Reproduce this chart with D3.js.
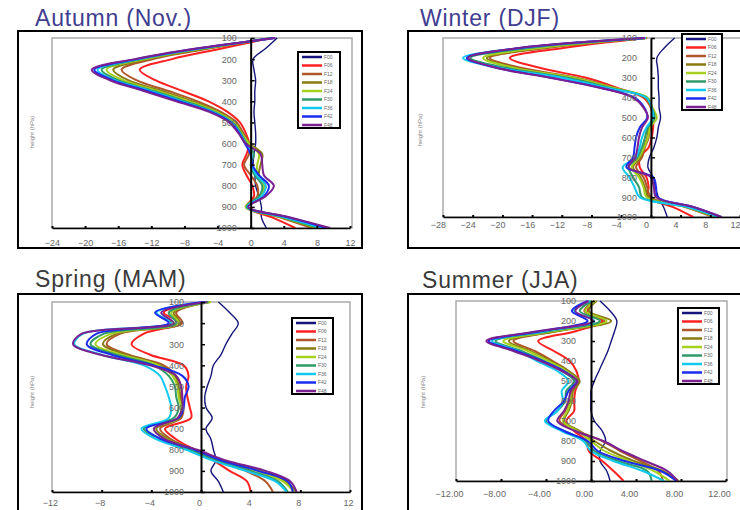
<!DOCTYPE html>
<html>
<head>
<meta charset="utf-8">
<script src="https://d3js.org/d3.v7.min.js"></script>
<style>
  body { margin: 0; background: #fff; }
  svg { display: block; font-family: Arial, "Liberation Sans", sans-serif; }
</style>
</head>
<body>
<svg id="chart" width="740" height="510"></svg>
<script>
// pressure levels (hPa) the profiles were read at
var levels = [100, 150, 200, 250, 300, 350, 400, 450, 500, 550, 600, 650, 700, 750, 800, 850, 900, 950, 1000];
var yTicks = [100, 200, 300, 400, 500, 600, 700, 800, 900, 1000];
var seriesNames = ["F00", "F06", "F12", "F18", "F24", "F30", "F36", "F42", "F48"];
var seriesColors = ["#14147a", "#ff2020", "#b0562a", "#8a7a12", "#a6d01e", "#2f9a68", "#10c8f0", "#1a2cf0", "#7a2090"];

var autumnTicks = [-24, -20, -16, -12, -8, -4, 0, 4, 8, 12];
var winterTicks = [-28, -24, -20, -16, -12, -8, -4, 0, 4, 8, 12];
var springTicks = [-12, -8, -4, 0, 4, 8, 12];
var summerTicks = [-12, -8, -4, 0, 4, 8, 12];

// one row per series, same order as seriesNames
var autumnVals = [
  [3.2, 1.8, 0.3, 0.4, 0.6, 0.5, 0.5, 0.4, 0.5, 0.6, 0.6, 0.4, 0.3, 0.5, 0.6, 1.0, 1.3, 1.3, 1.9],
  [2.4, -3.5, -9.5, -13.4, -11.5, -8.3, -5.1, -2.8, -1.3, -0.6, -0.2, -0.5, -1.0, -0.5, 0.2, 0.4, -0.5, 2.6, 5.4],
  [2.5, -5.0, -11.8, -15.6, -13.8, -10.0, -6.4, -3.6, -1.7, -0.9, -0.3, -0.2, -0.8, 0.0, 0.8, 0.8, -0.5, 3.6, 7.4],
  [2.6, -5.4, -12.4, -16.6, -14.8, -10.8, -7.0, -3.9, -1.9, -1.0, -0.1, 1.4, 1.2, 1.0, 1.8, 1.2, -0.6, 3.8, 7.9],
  [2.6, -5.7, -12.8, -17.4, -15.4, -11.3, -7.4, -4.1, -2.0, -1.1, -0.2, 1.0, 0.8, 0.8, 1.6, 1.1, -0.6, 3.9, 8.1],
  [2.7, -6.0, -13.2, -18.0, -16.0, -11.8, -7.9, -4.4, -2.2, -1.2, -0.5, 0.4, 0.0, 0.5, 1.4, 1.0, -0.5, 4.0, 8.3],
  [2.8, -6.2, -13.5, -18.5, -16.4, -12.2, -8.3, -4.6, -2.3, -1.3, -0.6, 0.1, 0.1, 0.7, 1.8, 1.3, -0.4, 4.2, 8.7],
  [2.9, -6.4, -13.8, -18.9, -16.7, -12.6, -8.6, -4.8, -2.4, -1.4, -0.7, 0.0, 0.2, 1.0, 2.2, 1.6, -0.3, 4.6, 9.2],
  [3.0, -6.6, -14.0, -19.2, -17.0, -13.0, -9.0, -5.0, -2.6, -1.5, -0.6, 1.2, 1.4, 1.6, 2.8, 1.8, -0.3, 4.8, 9.6]
];
var winterVals = [
  [3.2, 1.8, 0.8, 0.9, 1.0, 1.0, 1.1, 1.1, 1.3, 1.0, 0.8, 0.4, -0.2, -0.4, 0.3, 0.6, 1.0, 1.7, 2.2],
  [-0.5, -11.8, -19.0, -15.0, -8.7, -4.6, -1.0, 0.0, 0.3, 0.3, 0.1, -0.3, -1.5, -1.5, -0.6, -0.3, -0.4, 3.0, 5.7],
  [-0.6, -14.0, -21.7, -17.5, -10.0, -5.0, -0.8, 0.0, 0.2, -0.2, -0.3, -0.8, -1.2, -2.0, -1.0, -0.5, 0.0, 4.6, 8.4],
  [-0.6, -14.6, -22.1, -18.2, -10.3, -5.1, -0.7, 0.1, 0.4, -0.3, -0.5, -1.0, -1.4, -2.4, -1.4, -0.8, -0.3, 4.8, 8.6],
  [-0.6, -15.0, -22.6, -18.5, -10.4, -5.1, -0.4, 0.2, 0.8, -0.1, -0.4, -0.9, -1.6, -2.6, -1.6, -1.0, -0.6, 4.8, 8.7],
  [-0.7, -16.5, -24.3, -19.5, -11.2, -5.6, -0.6, 0.1, 0.5, -0.4, -0.8, -1.2, -1.8, -3.0, -2.4, -1.6, -1.2, 4.9, 8.9],
  [-0.7, -17.4, -25.3, -20.4, -12.0, -6.0, -0.6, 0.1, 0.3, -0.6, -1.2, -1.5, -2.0, -3.8, -2.9, -2.2, -1.5, 5.0, 9.1],
  [-0.8, -17.6, -24.8, -20.8, -13.4, -6.8, -2.2, -0.9, -0.5, -1.5, -2.0, -2.2, -2.4, -3.3, 0.3, 0.7, 0.9, 5.7, 9.5],
  [-0.8, -17.8, -24.6, -20.8, -13.6, -6.9, -2.4, -1.0, -0.4, -1.2, -1.6, -1.8, -2.1, -3.0, 0.0, 0.4, 0.7, 5.7, 9.5]
];
var springVals = [
  [1.4, 2.3, 3.0, 2.5, 2.0, 1.6, 1.0, 0.8, 0.5, 0.3, 0.4, 0.9, 0.4, 0.8, 1.0, 1.2, 0.8, 1.4, 1.8],
  [0.3, -3.0, -1.6, -4.6, -5.6, -4.1, -1.4, -1.0, -1.2, -1.1, -0.9, -0.8, -2.9, -2.0, -0.5, 1.0, 2.3, 3.7, 4.0],
  [0.5, -2.0, -1.5, -6.5, -7.6, -5.8, -3.0, -2.0, -1.6, -1.6, -1.4, -1.6, -3.3, -2.4, -0.6, 1.4, 3.6, 5.2, 5.8],
  [0.8, -2.2, -1.7, -6.8, -7.9, -6.0, -3.2, -2.1, -1.8, -1.7, -1.5, -1.7, -3.6, -2.6, -0.5, 1.8, 4.8, 6.8, 7.7],
  [0.8, -2.4, -1.8, -7.2, -8.5, -6.4, -3.4, -2.3, -1.9, -1.8, -1.6, -1.8, -3.8, -2.8, -0.6, 1.6, 4.5, 6.6, 7.5],
  [0.6, -2.6, -2.0, -7.8, -8.9, -6.8, -3.8, -2.6, -2.1, -2.0, -1.8, -2.2, -4.6, -3.2, -0.9, 1.2, 4.0, 6.2, 7.0],
  [0.4, -3.6, -2.4, -9.5, -10.2, -8.0, -4.6, -3.3, -2.9, -2.6, -2.4, -2.6, -4.8, -3.6, -1.2, 0.9, 3.6, 6.0, 6.9],
  [0.2, -3.7, -2.6, -8.4, -9.2, -7.2, -3.8, -1.5, -1.0, -1.3, -1.4, -1.8, -4.4, -3.2, -0.5, 1.6, 4.6, 7.0, 7.4],
  [0.5, -3.2, -2.2, -9.6, -10.3, -8.1, -4.1, -2.0, -1.6, -1.5, -1.5, -1.9, -3.8, -2.9, -0.3, 2.0, 5.2, 7.2, 7.7]
];
var summerVals = [
  [0.8, 1.7, 2.3, 2.1, 1.8, 1.5, 1.1, 0.7, 0.3, 0.0, 0.0, 0.0, 0.3, 1.0, 1.3, 0.8, 0.8, 1.4, 1.7],
  [0.3, -0.3, 1.0, -1.3, -4.7, -3.3, -1.9, -1.3, -1.1, -1.4, -1.5, -1.5, -2.2, -1.5, -0.4, -0.2, 1.0, 2.0, 2.9],
  [0.3, -0.6, 1.2, -3.0, -6.9, -5.0, -3.4, -2.0, -1.1, -1.7, -1.9, -2.3, -2.8, -1.2, 1.0, 2.6, 4.4, 6.0, 6.4],
  [0.5, -0.2, 1.8, -2.8, -7.3, -5.4, -3.6, -2.0, -1.0, -1.6, -1.7, -2.0, -2.4, -1.0, 0.3, 1.8, 3.8, 6.4, 7.8],
  [0.4, -0.5, 1.4, -3.2, -7.8, -5.6, -3.8, -2.2, -1.2, -1.8, -1.8, -2.1, -2.5, -1.2, 0.0, 1.2, 3.4, 5.6, 7.0],
  [0.1, -1.0, 0.8, -3.6, -8.5, -6.2, -4.2, -2.6, -1.5, -2.2, -2.3, -3.0, -4.0, -2.4, -0.5, 0.3, 2.4, 5.0, 5.4],
  [-0.1, -1.5, 0.3, -4.0, -8.8, -6.5, -4.8, -3.0, -2.0, -2.6, -2.5, -3.0, -4.1, -2.6, -0.7, 0.0, 2.0, 4.6, 6.5],
  [-0.3, -1.7, -0.3, -4.4, -9.1, -6.6, -4.3, -2.4, -1.3, -2.0, -2.4, -3.3, -3.8, -2.4, -0.3, 0.6, 3.0, 6.2, 7.6],
  [-0.2, -1.4, 0.2, -4.6, -9.3, -6.9, -4.5, -2.6, -1.2, -1.8, -2.0, -2.4, -3.0, -1.4, 1.1, 2.8, 4.8, 6.8, 7.7]
];

// layout of the four panels
var panels = [
  { title: "Autumn (Nov.)", titleColor: "#3f3d8f", tx: 35, ty: 26,
    frame: [18, 31, 362, 248], plot: [52, 38, 352, 228],
    xDomain: [-24, 12], xRange: [52, 350], yRange: [38, 228],
    ticks: autumnTicks, fmt: d3.format("d"), labelDx: 0, labelPad: 12, yPad: 14,
    legend: [298, 52, 42, 76], ylab: [32, 132], vals: autumnVals },
  { title: "Winter (DJF)", titleColor: "#3f3d8f", tx: 420, ty: 26,
    frame: [408, 31, 745, 248], plot: [443, 38, 745, 217],
    xDomain: [-28, 12], xRange: [443, 740], yRange: [38, 217],
    ticks: winterTicks, fmt: d3.format("d"), labelDx: -5, labelPad: 5, yPad: 14,
    legend: [682, 34, 40, 76], ylab: [420, 130], vals: winterVals },
  { title: "Spring (MAM)", titleColor: "#3a3a3a", tx: 35, ty: 287,
    frame: [18, 294, 362, 515], plot: [52, 302, 350, 492],
    xDomain: [-12, 12], xRange: [52, 350], yRange: [302, 492],
    ticks: springTicks, fmt: d3.format("d"), labelDx: -2, labelPad: 8, yPad: 17,
    legend: [292, 318, 41, 76], ylab: [32, 392], vals: springVals },
  { title: "Summer (JJA)", titleColor: "#3a3a3a", tx: 422, ty: 288,
    frame: [408, 294, 745, 515], plot: [456, 301, 727, 481],
    xDomain: [-12, 12], xRange: [456, 726], yRange: [301, 481],
    ticks: summerTicks, fmt: d3.format(".2f"), labelDx: -7, labelPad: 10, yPad: 15,
    legend: [678, 308, 41, 76], ylab: [423, 392], vals: summerVals }
];

var svg = d3.select("#chart");
panels.forEach(function (p) { drawPanel(p); });

function drawPanel(p) {
  var g = svg.append("g");
  var x = d3.scaleLinear().domain(p.xDomain).range(p.xRange);
  var y = d3.scaleLinear().domain([100, 1000]).range(p.yRange);

  // title
  g.append("text")
    .attr("x", p.tx).attr("y", p.ty)
    .style("font-size", "23px")
    .style("letter-spacing", "0.8px")
    .style("fill", p.titleColor)
    .text(p.title);

  // outer black frame
  g.append("rect")
    .attr("x", p.frame[0]).attr("y", p.frame[1])
    .attr("width", p.frame[2] - p.frame[0]).attr("height", p.frame[3] - p.frame[1])
    .style("fill", "none").style("stroke", "#000").style("stroke-width", 2);

  // grey plot area
  g.append("rect")
    .attr("x", p.plot[0]).attr("y", p.plot[1])
    .attr("width", p.plot[2] - p.plot[0]).attr("height", p.plot[3] - p.plot[1])
    .style("fill", "none").style("stroke", "#aaa").style("stroke-width", 1.5);

  // y axis title
  g.append("text")
    .attr("transform", "translate(" + p.ylab[0] + "," + p.ylab[1] + ") rotate(-90)")
    .attr("text-anchor", "middle")
    .attr("dy", "0.35em")
    .style("font-size", "6px")
    .style("fill", "#888")
    .text("height (hPa)");

  // profiles
  var line = d3.line()
    .x(function (d) { return x(d); })
    .y(function (d, i) { return y(levels[i]); })
    .curve(d3.curveCatmullRom.alpha(0.5));

  g.append("g")
    .selectAll("path")
    .data(p.vals)
    .enter()
    .append("path")
    .attr("d", line)
    .style("fill", "none")
    .style("stroke", function (d, i) { return seriesColors[i]; })
    .style("stroke-width", function (d, i) { return i == 0 ? 1.4 : 2; });

  // bottom axis
  var xAxis = g.append("g")
    .attr("transform", "translate(0," + p.yRange[1] + ")")
    .call(d3.axisBottom(x).tickValues(p.ticks).tickFormat(p.fmt)
      .tickSizeInner(-2).tickSizeOuter(0).tickPadding(p.labelPad));
  xAxis.select(".domain").style("stroke", "#000").style("stroke-width", 1.5);
  xAxis.selectAll(".tick line").style("stroke", "#000").style("stroke-width", 2);
  xAxis.selectAll(".tick text")
    .attr("dx", p.labelDx)
    .style("font-size", "9px")
    .style("fill", "#666")
    .style("font-family", "Arial, 'Liberation Sans', sans-serif");

  // zero line carries the pressure ticks
  var yAxis = g.append("g")
    .attr("transform", "translate(" + x(0) + ",0)")
    .call(d3.axisLeft(y).tickValues(yTicks).tickFormat(d3.format("d"))
      .tickSizeInner(-4).tickSizeOuter(0).tickPadding(p.yPad));
  yAxis.select(".domain").style("stroke", "#000").style("stroke-width", 2);
  yAxis.selectAll(".tick line").style("stroke", "#000").style("stroke-width", 1.5);
  yAxis.selectAll(".tick text")
    .style("font-size", "9px")
    .style("fill", "#666")
    .style("font-family", "Arial, 'Liberation Sans', sans-serif");

  // legend
  var lg = g.append("g").attr("transform", "translate(" + p.legend[0] + "," + p.legend[1] + ")");
  lg.append("rect")
    .attr("width", p.legend[2]).attr("height", p.legend[3])
    .style("fill", "#fff").style("stroke", "#000").style("stroke-width", 2);
  var rowH = (p.legend[3] - 8) / (seriesNames.length - 1);
  var rows = lg.selectAll(".row")
    .data(seriesNames)
    .enter()
    .append("g")
    .attr("transform", function (d, i) { return "translate(0," + (5 + i * rowH) + ")"; });
  rows.append("line")
    .attr("x1", 4).attr("x2", 24)
    .style("stroke", function (d, i) { return seriesColors[i]; })
    .style("stroke-width", 2.5);
  rows.append("text")
    .attr("x", 26).attr("dy", "0.35em")
    .style("font-size", "5px")
    .style("fill", "#666")
    .text(function (d) { return d; });
}
</script>
</body>
</html>
